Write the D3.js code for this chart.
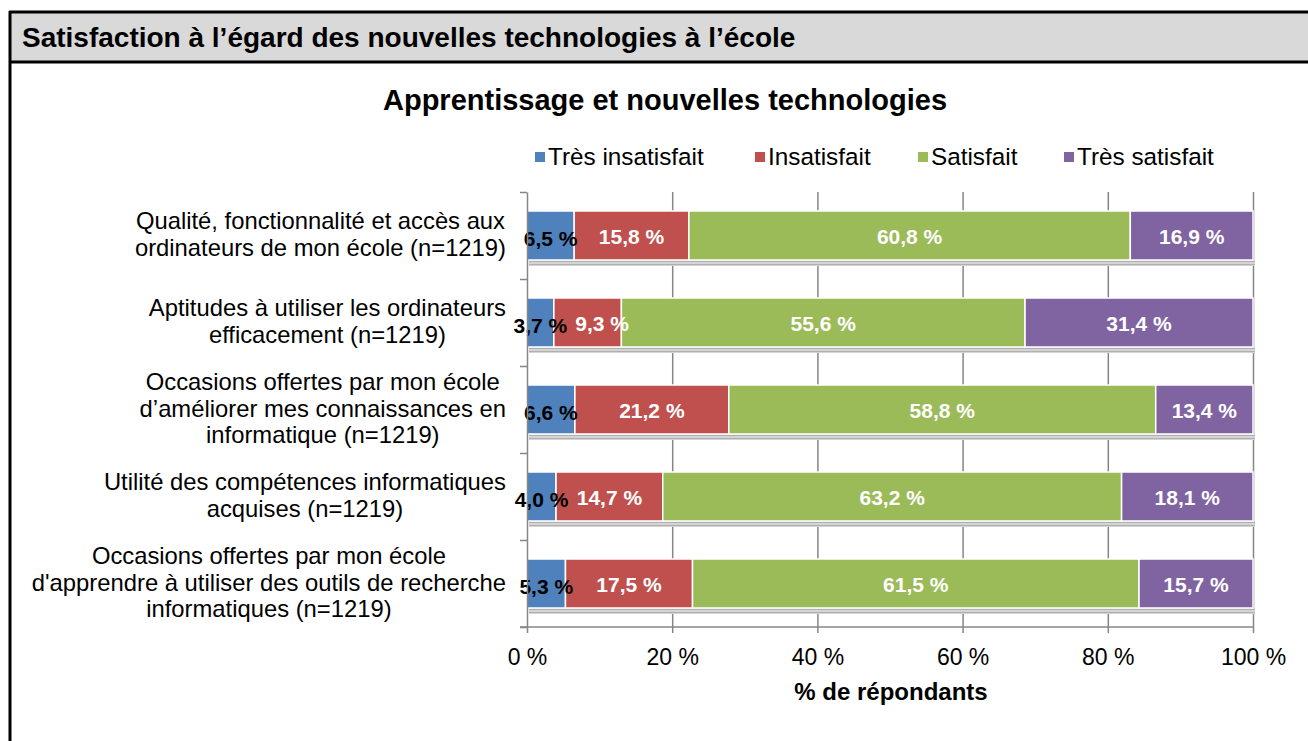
<!DOCTYPE html>
<html>
<head>
<meta charset="utf-8">
<script src="https://cdn.jsdelivr.net/npm/d3@7"></script>
<style>
  body { margin: 0; background: #fff; }
  svg { display: block; font-family: "Liberation Sans", Arial, sans-serif; }
</style>
</head>
<body>
<svg width="1308" height="741"></svg>
<script>
var categories = [
  ['Qualité, fonctionnalité et accès aux', 'ordinateurs de mon école (n=1219)'],
  ['Aptitudes à utiliser les ordinateurs', 'efficacement (n=1219)'],
  ['Occasions offertes par mon école', 'd\u2019améliorer mes connaissances en', 'informatique (n=1219)'],
  ['Utilité des compétences informatiques', 'acquises (n=1219)'],
  ['Occasions offertes par mon école', 'd\'apprendre à utiliser des outils de recherche', 'informatiques (n=1219)']
];
var seriesNames = ['Très insatisfait', 'Insatisfait', 'Satisfait', 'Très satisfait'];
var tresInsatisfait = [6.5, 3.7, 6.6, 4.0, 5.3];
var insatisfait = [15.8, 9.3, 21.2, 14.7, 17.5];
var satisfait = [60.8, 55.6, 58.8, 63.2, 61.5];
var tresSatisfait = [16.9, 31.4, 13.4, 18.1, 15.7];
var xTicks = [0, 20, 40, 60, 80, 100];

var colors = ['#4f81bd', '#c0504d', '#9bbb59', '#8064a2'];
var series = [tresInsatisfait, insatisfait, satisfait, tresSatisfait];

var svg = d3.select('svg');

// cadre + bandeau de titre
svg.append('rect')
  .attr('x', 10).attr('y', 12)
  .attr('width', 1300).attr('height', 50)
  .attr('fill', '#d9d9d9');
svg.append('line')
  .attr('x1', 9).attr('x2', 1308).attr('y1', 12).attr('y2', 12)
  .attr('stroke', '#000').attr('stroke-width', 3);
svg.append('line')
  .attr('x1', 9).attr('x2', 1308).attr('y1', 62).attr('y2', 62)
  .attr('stroke', '#000').attr('stroke-width', 3);
svg.append('line')
  .attr('x1', 10).attr('x2', 10).attr('y1', 11).attr('y2', 741)
  .attr('stroke', '#000').attr('stroke-width', 3);
svg.append('text')
  .attr('x', 22).attr('y', 47)
  .style('font-size', '28px').style('font-weight', 'bold')
  .text('Satisfaction à l\u2019égard des nouvelles technologies à l\u2019école');

svg.append('text')
  .attr('x', 665).attr('y', 110)
  .style('text-anchor', 'middle')
  .style('font-size', '29px').style('font-weight', 'bold')
  .text('Apprentissage et nouvelles technologies');

// légende
var legendX = [535, 755, 918, 1064];
var legend = svg.selectAll('.legend')
  .data(seriesNames)
  .enter()
  .append('g')
  .attr('transform', (d, i) => 'translate(' + legendX[i] + ',157)');
legend.append('rect')
  .attr('x', 0).attr('y', -5)
  .attr('width', 10).attr('height', 10)
  .attr('fill', (d, i) => colors[i]);
legend.append('text')
  .attr('x', 13).attr('y', 8)
  .style('font-size', '24.3px')
  .text(d => d);

var xScale = d3.scaleLinear().domain([0, 100]).range([527, 1253]);
var yScale = d3.scaleBand()
  .domain(d3.range(categories.length))
  .range([192, 627])
  .paddingInner(0.437)
  .paddingOuter(0.2185);
var yEdge = d3.scaleLinear().domain([0, categories.length]).range([192, 627]);

// grille verticale
svg.append('g')
  .attr('transform', 'translate(0,627)')
  .call(d3.axisBottom(xScale).tickValues(xTicks.slice(1)).tickSize(-435).tickFormat(''))
  .call(g => g.select('.domain').remove())
  .selectAll('line').attr('stroke', '#868686').attr('stroke-width', 1.5);

// barres empilées
var rows = categories.map((c, i) => {
  var x0 = 0;
  return series.map((s, j) => {
    var seg = { row: i, k: j, v: s[i], x0: x0, x1: x0 + s[i] };
    x0 += s[i];
    return seg;
  });
});

// ombre sous les barres
var defs = svg.append('defs');
var pat = defs.append('pattern')
  .attr('id', 'hatch').attr('patternUnits', 'userSpaceOnUse')
  .attr('width', 3).attr('height', 3);
pat.append('rect').attr('width', 3).attr('height', 3).attr('fill', '#d4d4d4');
pat.append('rect').attr('width', 3).attr('height', 1).attr('fill', '#b0b0b0');

svg.selectAll('.shadow')
  .data(categories)
  .enter()
  .append('rect')
  .attr('x', xScale(0) + 2)
  .attr('y', (d, i) => yScale(i) + yScale.bandwidth())
  .attr('width', xScale(100) - xScale(0))
  .attr('height', 6)
  .attr('fill', 'url(#hatch)');

var rowG = svg.selectAll('.row')
  .data(rows)
  .enter()
  .append('g');

rowG.selectAll('rect')
  .data(d => d)
  .enter()
  .append('rect')
  .attr('x', d => xScale(d.x0))
  .attr('y', d => yScale(d.row))
  .attr('width', d => xScale(d.x1) - xScale(d.x0))
  .attr('height', yScale.bandwidth())
  .attr('fill', d => colors[d.k])
  .attr('stroke', '#fff')
  .attr('stroke-width', 1.5);

rowG.each(function() {
  var prevRight = -Infinity;
  d3.select(this).selectAll('text')
    .data(d => d)
    .enter()
    .append('text')
    .attr('y', d => yScale(d.row) + yScale.bandwidth() / 2 + (d.k === 0 ? 10 : 8))
    .style('text-anchor', 'middle')
    .style('font-size', '21px')
    .style('font-weight', 'bold')
    .attr('fill', d => d.k === 0 ? '#000' : '#fff')
    .text(d => d.v.toFixed(1).replace('.', ',') + ' %')
    .each(function(d) {
      // décale l'étiquette si elle chevauche la précédente
      var w = this.getComputedTextLength();
      var cx = (xScale(d.x0) + xScale(d.x1)) / 2;
      if (cx - w / 2 < prevRight + 8) cx = prevRight + 8 + w / 2;
      d3.select(this).attr('x', cx);
      prevRight = cx + w / 2;
    });
});

// axe gauche
svg.append('g')
  .attr('transform', 'translate(527,0)')
  .call(d3.axisLeft(yEdge).ticks(5).tickSize(7).tickSizeOuter(0).tickFormat(''))
  .call(g => g.select('.domain').attr('stroke', '#868686').attr('stroke-width', 1.5))
  .selectAll('line').attr('stroke', '#868686').attr('stroke-width', 1.5);

// axe du bas
var xAxisG = svg.append('g')
  .attr('transform', 'translate(0,627)')
  .call(d3.axisBottom(xScale).tickValues(xTicks).tickSize(6).tickSizeOuter(0)
    .tickFormat(d => d + ' %'));
xAxisG.select('.domain').attr('stroke', '#868686').attr('stroke-width', 1.5)
  .attr('d', 'M520,0H1253');
xAxisG.selectAll('line').attr('stroke', '#868686').attr('stroke-width', 1.5);
xAxisG.selectAll('text')
  .attr('y', 22)
  .attr('fill', '#000')
  .style('font-size', '23px')
  .style('font-family', '"Liberation Sans", Arial, sans-serif');

svg.append('text')
  .attr('x', 891).attr('y', 700)
  .style('text-anchor', 'middle')
  .style('font-size', '24px').style('font-weight', 'bold')
  .text('% de répondants');

// libellés des catégories
var labelG = svg.selectAll('.cat')
  .data(categories)
  .enter()
  .append('text')
  .style('font-size', '23.8px')
  .style('text-anchor', 'middle');

labelG.each(function(lines, i) {
  var t = d3.select(this);
  var cy = yScale(i) + yScale.bandwidth() / 2;
  var lh = 26.5;
  var top = cy - (lines.length - 1) * lh / 2 + 7;
  lines.forEach((line, j) => {
    t.append('tspan')
      .attr('y', top + j * lh)
      .text(line);
  });
  // centre du bloc : la ligne la plus longue se termine à x = 506
  var maxW = 0;
  t.selectAll('tspan').each(function() {
    maxW = Math.max(maxW, this.getComputedTextLength());
  });
  t.selectAll('tspan').attr('x', 506 - maxW / 2);
});
</script>
</body>
</html>
